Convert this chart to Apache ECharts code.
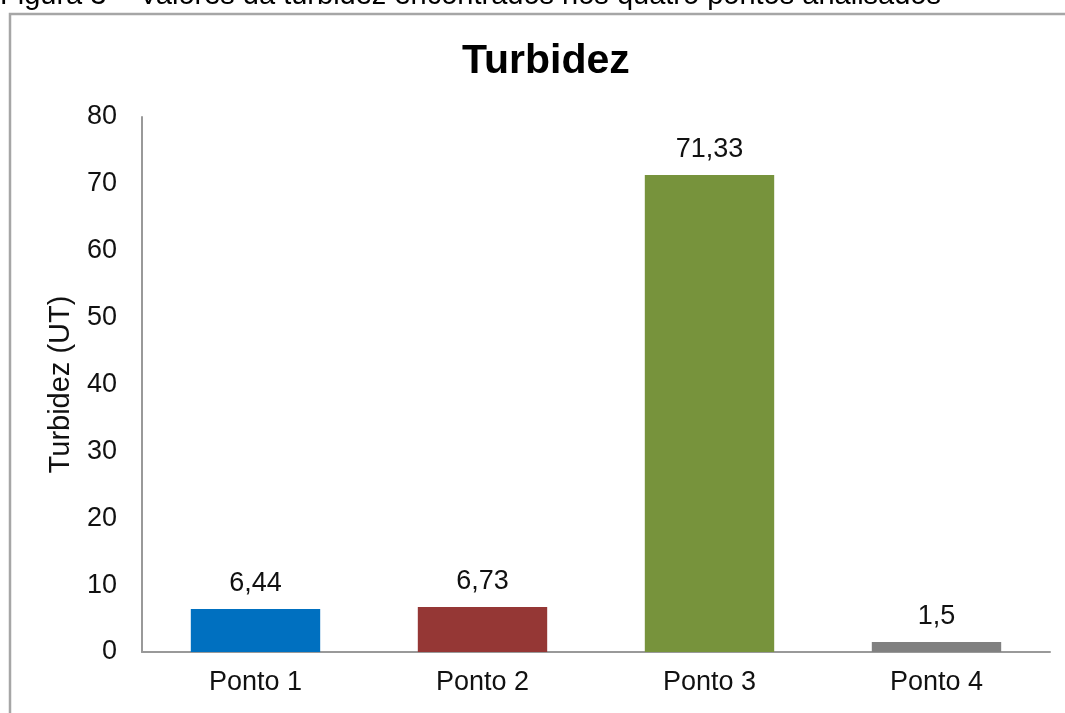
<!DOCTYPE html>
<html>
<head>
<meta charset="utf-8">
<script src="https://cdn.jsdelivr.net/npm/echarts@6/dist/echarts.min.js"></script>
<style>
html,body{margin:0;padding:0;background:#fff;}
#chart{width:1065px;height:713px;}
</style>
</head>
<body>
<div id="chart"></div>
<script>
const categories = ['Ponto 1', 'Ponto 2', 'Ponto 3', 'Ponto 4'];
const turbidez = [6.44, 6.73, 71.33, 1.5];
const barColors = ['#0070C0', '#953735', '#77933C', '#808080'];
const yTicks = [0, 10, 20, 30, 40, 50, 60, 70, 80];
const chartTitle = 'Turbidez';
const yName = 'Turbidez (UT)';
const caption = 'Figura 3 – Valores da turbidez encontrados nos quatro pontos analisados';

const FONT = 'Liberation Sans, Arial, sans-serif';
const chart = echarts.init(document.getElementById('chart'));
chart.setOption({
  animation: false,
  backgroundColor: '#fff',
  title: {
    text: chartTitle,
    left: 457, top: 36,
    textStyle: {fontFamily: FONT, fontSize: 41, fontWeight: 'bold', color: '#000'}
  },
  graphic: [
    {type: 'rect', shape: {x: 10, y: 14, width: 1100, height: 800},
     style: {fill: 'none', stroke: '#a6a6a6', lineWidth: 2.5}, z: 0},
    {type: 'text', x: 0, y: 10,
     style: {text: caption, font: '29px ' + FONT, fill: '#000', textVerticalAlign: 'bottom', verticalAlign: 'bottom'}}
  ],
  grid: {left: 142, right: 15, top: 117, bottom: 61, containLabel: false},
  xAxis: {
    type: 'category',
    data: categories,
    axisLine: {lineStyle: {color: '#999', width: 2}},
    axisTick: {show: false},
    axisLabel: {fontFamily: FONT, fontSize: 27, color: '#111', margin: 17}
  },
  yAxis: {
    type: 'value',
    min: yTicks[0], max: yTicks[yTicks.length - 1], interval: 10,
    name: yName,
    nameLocation: 'middle',
    nameRotate: 90,
    nameGap: 67,
    nameTextStyle: {fontFamily: FONT, fontSize: 29, color: '#111', padding: [0, 0, 0, 0]},
    axisLine: {show: true, lineStyle: {color: '#999', width: 2}},
    axisTick: {show: false},
    splitLine: {show: false},
    axisLabel: {fontFamily: FONT, fontSize: 27, color: '#111', margin: 25,
      formatter: v => yTicks.includes(v) ? String(v) : ''}
  },
  series: [{
    type: 'bar',
    data: turbidez.map((v, i) => ({value: v, itemStyle: {color: barColors[i]}})),
    barWidth: '57%',
    label: {
      show: true, position: 'top', distance: 12,
      fontFamily: FONT, fontSize: 27, color: '#111',
      formatter: p => String(p.value).replace('.', ',')
    }
  }]
});
</script>
</body>
</html>
